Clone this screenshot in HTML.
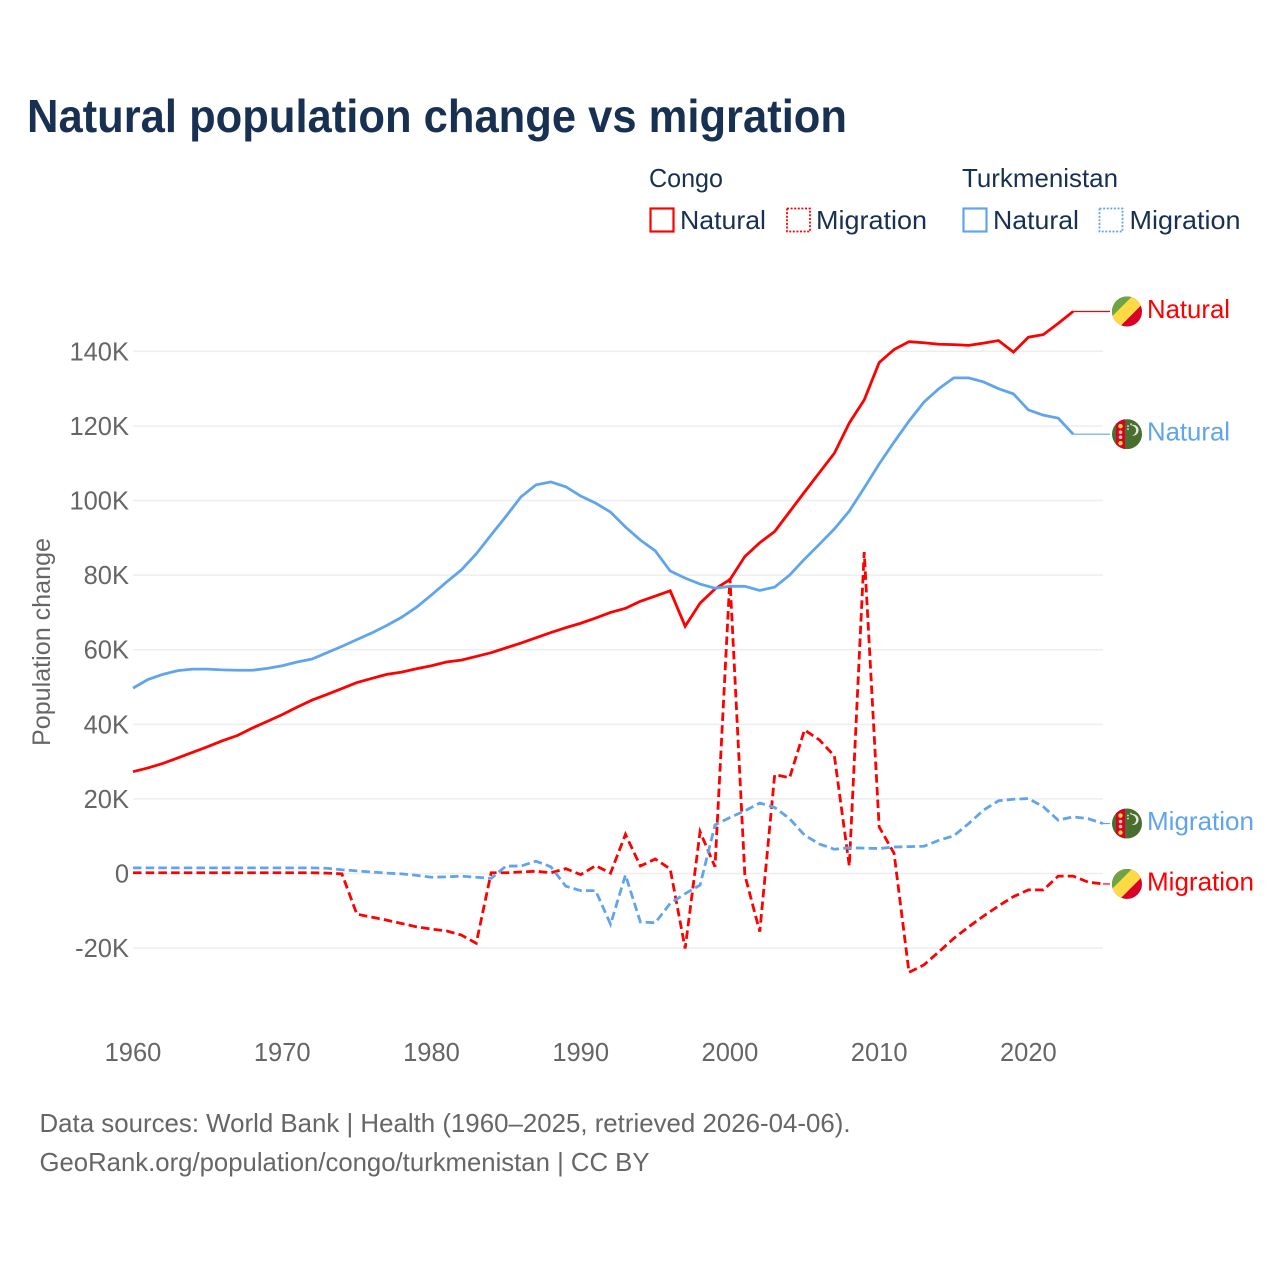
<!DOCTYPE html>
<html>
<head>
<meta charset="utf-8">
<title>Natural population change vs migration</title>
<style>
html,body{margin:0;padding:0;background:#fff;width:1280px;height:1280px;overflow:hidden}
svg{display:block}
text{font-family:"Liberation Sans",sans-serif}
</style>
</head>
<body>
<svg id="chart" xmlns="http://www.w3.org/2000/svg" width="1280" height="1280" viewBox="0 0 1280 1280">
  <defs>
    <clipPath id="flag-clip"><circle cx="0" cy="0" r="15"/></clipPath>
    <g id="flag-congo" clip-path="url(#flag-clip)">
      <rect x="-15" y="-15" width="30" height="30" fill="#d80027"/>
      <polygon points="-15,-15 11,-15 -15,11" fill="#6da544"/>
      <polygon points="5,-15 15,-15 15,-7 -7,15 -15,15 -15,5" fill="#ffda44"/>
    </g>
    <g id="flag-turkmenistan" clip-path="url(#flag-clip)">
      <rect x="-15" y="-15" width="30" height="30" fill="#496e2d"/>
      <rect x="-11" y="-15" width="9" height="30" fill="#d80027"/>
      <circle cx="-6.5" cy="-8" r="2.2" fill="#ffda44"/>
      <circle cx="-6.5" cy="-2" r="1.8" fill="#f3c6a0"/>
      <circle cx="-6.5" cy="3" r="1.8" fill="#f3c6a0"/>
      <circle cx="-6.5" cy="9" r="2.2" fill="#ffda44"/>
      <path d="M5,-9 A5.5,5.5 0 1 1 3,1 A4.5,4.5 0 0 0 5,-9Z" fill="#e8e8e8" transform="rotate(-20 5 -4)"/>
      <circle cx="1" cy="-8" r="0.9" fill="#e8e8e8"/>
      <circle cx="4" cy="-10" r="0.9" fill="#e8e8e8"/>
      <circle cx="1" cy="-5" r="0.9" fill="#e8e8e8"/>
    </g>
  </defs>

  <rect x="0" y="0" width="1280" height="1280" fill="#ffffff"/>

  <text x="27" y="132" font-size="46" font-weight="700" fill="#183153" textLength="820" lengthAdjust="spacingAndGlyphs">Natural population change vs migration</text>

  <g font-size="26" fill="#183153">
    <text x="649" y="187" textLength="74" lengthAdjust="spacingAndGlyphs">Congo</text>
    <text x="962" y="187" textLength="156" lengthAdjust="spacingAndGlyphs">Turkmenistan</text>

    <g>
      <rect x="650.5" y="208.5" width="23" height="23" fill="none" stroke="#ff0000" stroke-width="2.2"/>
      <text x="680" y="229" textLength="86" lengthAdjust="spacingAndGlyphs">Natural</text>
    </g>
    <g>
      <rect x="787" y="208.5" width="23" height="23" fill="none" stroke="#ff0000" stroke-width="1.8" stroke-dasharray="2 1.6"/>
      <text x="816" y="229" textLength="111" lengthAdjust="spacingAndGlyphs">Migration</text>
    </g>
    <g>
      <rect x="963.5" y="208.5" width="23" height="23" fill="none" stroke="#60a5ec" stroke-width="2.2"/>
      <text x="993" y="229" textLength="86" lengthAdjust="spacingAndGlyphs">Natural</text>
    </g>
    <g>
      <rect x="1099.5" y="208.5" width="23" height="23" fill="none" stroke="#60a5ec" stroke-width="1.8" stroke-dasharray="2 1.6"/>
      <text x="1129.5" y="229" textLength="111" lengthAdjust="spacingAndGlyphs">Migration</text>
    </g>
  </g>

  <g id="grid"></g>
  <g id="y-ticks"></g>
  <g id="x-ticks"></g>
  <g id="series"></g>
  <g id="end-labels"></g>

  <text transform="translate(50,642) rotate(-90)" text-anchor="middle" font-size="25" fill="#666666" textLength="208" lengthAdjust="spacingAndGlyphs">Population change</text>

  <text x="39.5" y="1132" font-size="26" fill="#666666" textLength="811" lengthAdjust="spacingAndGlyphs">Data sources: World Bank | Health (1960–2025, retrieved 2026-04-06).</text>
  <text x="39.5" y="1171" font-size="26" fill="#666666" textLength="610" lengthAdjust="spacingAndGlyphs">GeoRank.org/population/congo/turkmenistan | CC BY</text>
</svg>

<script>
var startYear = 1960;
var yTickValues = [140, 120, 100, 80, 60, 40, 20, 0, -20];
var yTickLabels = ["140K", "120K", "100K", "80K", "60K", "40K", "20K", "0", "-20K"];
var xTickYears = [1960, 1970, 1980, 1990, 2000, 2010, 2020];

var congoNatural = [27.3,28.3,29.5,31,32.5,34,35.6,37,39,40.8,42.6,44.6,46.5,48,49.6,51.2,52.3,53.4,54,54.9,55.7,56.7,57.2,58.2,59.2,60.5,61.8,63.2,64.6,65.9,67.1,68.5,70,71.1,73,74.4,75.8,66.3,72.5,76.3,78.8,85,88.7,91.7,97,102.3,107.5,112.7,120.8,127,137,140.5,142.6,142.3,141.9,141.8,141.6,142.2,142.9,139.8,143.8,144.5,147.5,150.7];
var turkmenistanNatural = [49.7,52,53.4,54.4,54.8,54.8,54.6,54.5,54.5,55,55.7,56.7,57.5,59.2,60.9,62.7,64.5,66.5,68.7,71.4,74.7,78.1,81.4,85.7,90.8,95.8,101,104.2,105,103.7,101.2,99.3,96.9,92.9,89.4,86.5,81.1,79.2,77.6,76.5,77,77,75.9,76.8,80,84.3,88.3,92.4,97.2,103.4,109.8,115.7,121.3,126.4,130,132.9,132.9,131.8,130,128.6,124.3,122.9,122.1,117.8];
var congoMigration = [0.2,0.2,0.2,0.2,0.2,0.2,0.2,0.2,0.2,0.2,0.2,0.2,0.2,0.1,-0.1,-10.9,-11.7,-12.5,-13.4,-14.3,-14.9,-15.4,-16.5,-18.7,0.2,0.2,0.4,0.6,0.2,1.3,-0.3,2.1,0.1,10.5,2,3.9,1.2,-20.1,11.2,1.8,79.2,-0.4,-15.6,26.5,25.7,38.5,35.8,31.5,2,86.2,12.5,5.4,-26.5,-24.5,-21,-17.4,-14.3,-11.4,-8.7,-6.2,-4.4,-4.4,-0.7,-0.7,-2.3,-2.8];
var turkmenistanMigration = [1.5,1.5,1.5,1.5,1.5,1.5,1.5,1.5,1.5,1.5,1.5,1.5,1.5,1.4,1,0.7,0.4,0.1,-0.1,-0.5,-1,-0.9,-0.7,-1,-1.3,2,2,3.3,1.8,-3.4,-4.6,-4.6,-13.6,-0.4,-13,-13.2,-8,-5.4,-3.1,13,15,16.8,18.9,17.7,14.7,10.3,7.9,6.5,6.9,6.8,6.7,7.1,7.2,7.3,8.9,10.1,13.4,17,19.5,19.9,20.1,17.9,14.3,15.2,14.7,13.4];

var NS = "http://www.w3.org/2000/svg";
var RED = "#ff0000";
var BLUE = "#60a5ec";

function xScale(year) { return 133 + (year - 1960) * 14.923; }
function yScale(v) { return 873.5 - v * 3.7295; }

function pathFrom(values) {
  var d = "";
  for (var i = 0; i < values.length; i++) {
    d += (i ? "L" : "M") + xScale(startYear + i).toFixed(2) + "," + yScale(values[i]).toFixed(2);
  }
  return d;
}

var gridG = document.getElementById("grid");
var yG = document.getElementById("y-ticks");
yTickValues.forEach(function (v, i) {
  var line = document.createElementNS(NS, "line");
  
  
  line.setAttribute("x1", 133);
  line.setAttribute("x2", 1103);
  line.setAttribute("y1", yScale(v));
  line.setAttribute("y2", yScale(v));
  line.setAttribute("stroke", "#eeeeee");
  line.setAttribute("stroke-width", 1.5);
  gridG.appendChild(line);

  var t = document.createElementNS(NS, "text");
  
  
  t.setAttribute("x", 129);
  t.setAttribute("y", yScale(v) + 9);
  t.setAttribute("text-anchor", "end");
  t.setAttribute("font-size", 25.5);
  t.setAttribute("fill", "#666666");
  t.textContent = yTickLabels[i];
  yG.appendChild(t);
});

var xG = document.getElementById("x-ticks");
xTickYears.forEach(function (yr) {
  var t = document.createElementNS(NS, "text");
  
  
  t.setAttribute("x", xScale(yr));
  t.setAttribute("y", 1061);
  t.setAttribute("text-anchor", "middle");
  t.setAttribute("font-size", 25.5);
  t.setAttribute("fill", "#666666");
  t.textContent = String(yr);
  xG.appendChild(t);
});

function drawSeries(name, values, color, dashed) {
  var seriesG = document.getElementById("series");
  var p = document.createElementNS(NS, "path");
  
  
  p.setAttribute("d", pathFrom(values));
  p.setAttribute("fill", "none");
  p.setAttribute("stroke", color);
  p.setAttribute("stroke-width", 2.8);
  p.setAttribute("stroke-linejoin", "miter");
  if (dashed) { p.setAttribute("stroke-dasharray", "8.5 4.2"); }
  seriesG.appendChild(p);

  var lastX = xScale(startYear + values.length - 1);
  var lastY = yScale(values[values.length - 1]);
  var c = document.createElementNS(NS, "line");
  
  
  c.setAttribute("x1", lastX);
  c.setAttribute("x2", 1110);
  c.setAttribute("y1", lastY);
  c.setAttribute("y2", lastY);
  c.setAttribute("stroke", color);
  c.setAttribute("stroke-width", 1.2);
  seriesG.appendChild(c);
}

function drawEnd(name, values, color, flagId, label, width) {
  var endG = document.getElementById("end-labels");
  var y = yScale(values[values.length - 1]);
  var u = document.createElementNS(NS, "use");
  
  
  u.setAttribute("href", "#" + flagId);
  u.setAttribute("transform", "translate(1127," + y.toFixed(2) + ")");
  endG.appendChild(u);

  var t = document.createElementNS(NS, "text");
  
  
  t.setAttribute("x", 1147);
  t.setAttribute("y", y + 6.5);
  t.setAttribute("font-size", 26);
  t.setAttribute("fill", color);
  t.setAttribute("textLength", width);
  t.setAttribute("lengthAdjust", "spacingAndGlyphs");
  t.textContent = label;
  endG.appendChild(t);
}

drawSeries("congo-migration", congoMigration, RED, true);
drawSeries("turkmenistan-migration", turkmenistanMigration, BLUE, true);
drawSeries("congo-natural", congoNatural, RED, false);
drawSeries("turkmenistan-natural", turkmenistanNatural, BLUE, false);

drawEnd("congo-natural", congoNatural, RED, "flag-congo", "Natural", 83);
drawEnd("turkmenistan-natural", turkmenistanNatural, BLUE, "flag-turkmenistan", "Natural", 83);
drawEnd("turkmenistan-migration", turkmenistanMigration, BLUE, "flag-turkmenistan", "Migration", 107);
drawEnd("congo-migration", congoMigration, RED, "flag-congo", "Migration", 107);
</script>
</body>
</html>
